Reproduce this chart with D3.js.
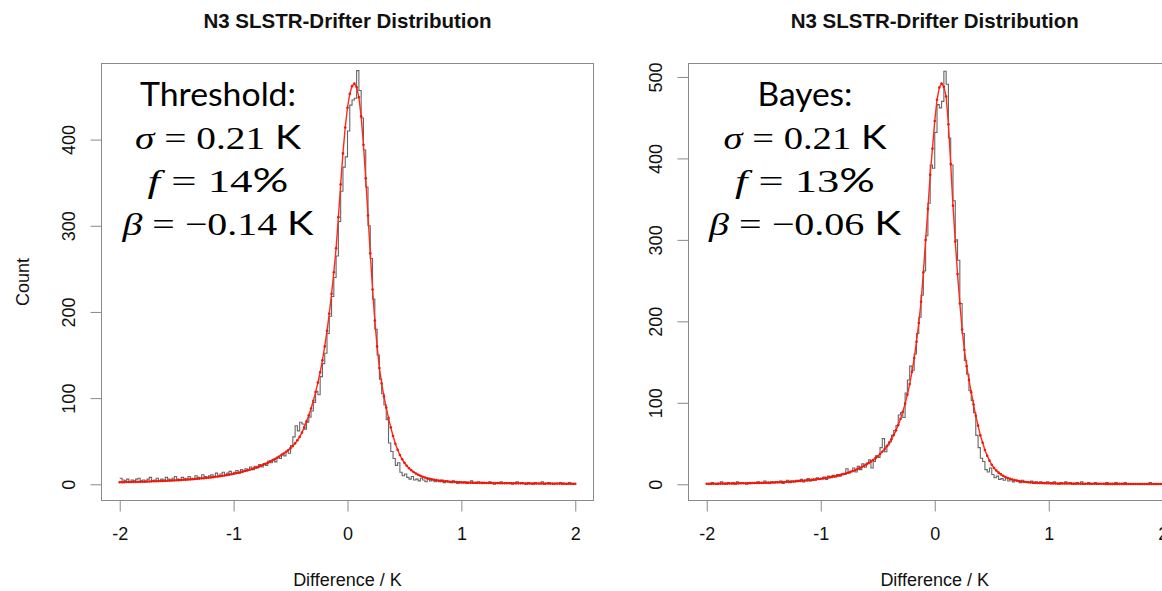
<!DOCTYPE html>
<html><head><meta charset="utf-8">
<script src="https://cdn.jsdelivr.net/npm/d3@7"></script>
<style>body{margin:0;background:#fff} svg{display:block}</style>
</head><body><svg id="c" width="1162" height="591"></svg>
<script>
// ---------- data ----------
const binStart = -2, binWidth = 0.02;          // histogram bins, -2 .. 2 K
const xTicks = [-2, -1, 0, 1, 2];
const yTicksLeft = [0, 100, 200, 300, 400];
const yTicksRight = [0, 100, 200, 300, 400, 500];
const chartTitle = "N3 SLSTR-Drifter Distribution";
const xLabel = "Difference / K";
const yLabel = "Count";

// Threshold panel: observed counts per bin (200 bins)
const thresholdCounts = [
  7,5,4,6,3,5,4,6,7,4,
  5,3,6,8,4,5,7,4,6,5,
  8,6,5,7,9,6,5,8,7,6,
  9,7,6,10,8,7,11,9,8,10,
  11,9,13,10,12,14,11,13,15,12,
  14,16,13,17,15,18,16,20,17,21,
  19,23,20,24,22,27,25,29,26,31,
  30,35,33,38,36,
  45,55,68,62,72,70,64,72,78,85,
  95,108,104,125,140,152,175,195,218,240,
  265,305,340,368,380,
  410,440,446,448,480,457,425,388,345,300,
  262,215,180,150,122,105,92,75,48,38,
  30,22,25,14,10,12,8,6,9,5,
  6,4,7,5,3,6,4,5,3,4,
  3,5,2,4,3,2,4,3,1,3,
  2,3,1,2,4,2,1,3,2,1,
  2,1,3,2,0,2,1,3,1,2,
  1,2,0,1,3,1,2,1,0,2,
  1,0,2,1,1,3,0,1,2,1,
  0,1,1,2,0,1,0,2,1,0
];
// Threshold panel: fitted curve at bin edges (201 points)
const thresholdFit = [
  2.4,2.5,2.5,2.6,2.6,2.7,2.8,2.8,2.9,3.0,
  3.0,3.1,3.2,3.3,3.4,3.5,3.6,3.7,3.8,3.9,
  4.0,4.1,4.3,4.4,4.5,4.7,4.8,5.0,5.2,5.3,
  5.5,5.7,5.9,6.1,6.4,6.6,6.9,7.1,7.4,7.7,
  8.0,8.3,8.7,9.0,9.4,9.8,10.2,10.7,11.2,11.7,
  12.2,12.8,13.4,14.0,14.7,15.4,16.1,16.9,17.7,18.6,
  19.5,20.5,21.5,22.6,23.8,25.0,26.3,27.7,29.1,30.7,
  32.3,34.0,35.8,37.7,39.8,
  42,44.5,47.5,51,55,60,66,73,80,88,
  97,107,118,130,144,160,178,198,221,246,
  274,310,348,384,414,
  437,453,462,465,461,449,427,394,355,312,
  268,226,190,160,135,117,102,89,77,66,
  56,47,40,34,29,25,21.5,18.7,16.3,14.3,
  12.6,11.1,9.9,8.8,7.9,7.1,6.4,5.8,5.3,4.8,
  4.4,4.0,3.7,3.4,3.2,3.0,2.8,2.6,2.5,2.3,
  2.2,
  2.1,2.0,2.0,1.9,1.8,1.8,1.7,1.7,1.6,1.6,
  1.5,1.5,1.5,1.4,1.4,1.4,1.3,1.3,1.3,1.2,
  1.2,1.2,1.2,1.1,1.1,1.1,1.1,1.0,1.0,1.0,
  1.0,1.0,0.9,0.9,0.9,0.9,0.9,0.9,0.8,0.8,
  0.8,0.8,0.8,0.8,0.8,0.7,0.7,0.7,0.7,0.7
];
// Bayes panel: observed counts per bin (200 bins)
const bayesCounts = [
  1,0,2,1,0,1,3,1,0,2,
  1,2,0,3,1,2,1,0,2,1,
  2,1,3,2,1,4,2,1,3,2,
  3,2,4,1,3,5,2,4,3,5,
  4,6,3,5,7,4,6,5,8,6,
  7,9,6,10,8,11,9,12,10,13,
  12,19,14,16,20,15,22,18,25,21,
  26,30,20,28,35,
  33,45,56,40,48,52,60,66,72,85,
  88,82,112,128,145,140,160,185,205,232,
  262,305,345,392,388,
  432,466,462,470,507,491,425,392,348,300,
  275,222,185,152,135,115,103,88,60,45,
  32,28,18,15,20,12,8,10,6,7,
  5,8,4,6,3,5,4,2,5,3,
  3,2,4,1,3,2,3,1,2,3,
  1,2,3,1,0,2,1,3,1,2,
  0,1,2,1,3,0,1,2,0,1,
  2,0,1,1,0,2,1,0,1,2,
  0,1,0,2,1,0,1,1,0,1,
  1,0,0,1,2,0,1,0,0,1
];
// Bayes panel: fitted curve at bin edges (201 points)
const bayesFit = [
  0.6,0.6,0.7,0.7,0.7,0.8,0.8,0.8,0.9,0.9,
  1.0,1.0,1.0,1.1,1.1,1.2,1.2,1.3,1.3,1.4,
  1.5,1.5,1.6,1.7,1.8,1.8,1.9,2.0,2.1,2.2,
  2.3,2.4,2.6,2.7,2.8,3.0,3.1,3.3,3.5,3.7,
  3.9,4.1,4.3,4.6,4.8,5.1,5.4,5.7,6.0,6.4,
  6.8,7.2,7.6,8.1,8.6,9.1,9.7,10.3,11.0,11.7,
  12.5,13.3,14.2,15.2,16.2,17.3,18.5,19.8,21.2,22.7,
  24.3,26.0,27.9,29.9,32.1,
  34.5,37.1,40.0,43.2,46.8,50.8,55.3,60.4,66.2,72.9,
  80.5,89,99,110,123,138,155,175,198,224,
  260,300,338,380,412,
  446,472,487,492,488,476,442,393,342,298,
  258,222,190,165,145,128,113,98,84,72,
  60,51,42,35,29,24,20,17,14.3,12.2,
  10.4,8.9,7.7,6.7,5.8,5.1,4.5,4.0,3.5,3.1,
  2.8,2.5,2.3,2.1,1.9,1.7,1.6,1.5,1.4,1.3,
  1.2,
  1.1,1.1,1.0,1.0,1.0,0.9,0.9,0.9,0.9,0.8,
  0.8,0.8,0.8,0.7,0.7,0.7,0.7,0.7,0.6,0.6,
  0.6,0.6,0.6,0.6,0.5,0.5,0.5,0.5,0.5,0.5,
  0.5,0.5,0.4,0.4,0.4,0.4,0.4,0.4,0.4,0.4,
  0.4,0.4,0.3,0.3,0.3,0.3,0.3,0.3,0.3,0.3
];

// annotation texts
const thresholdNotes = [
  [["Threshold:", "sans"]],
  [["σ", "it"], [" = 0.21 ", "ser"], ["K", "sans"]],
  [["f", "it"], [" = 14", "ser"], ["%", "sans"]],
  [["β", "it"], [" = −0.14 ", "ser"], ["K", "sans"]]
];
const bayesNotes = [
  [["Bayes:", "sans"]],
  [["σ", "it"], [" = 0.21 ", "ser"], ["K", "sans"]],
  [["f", "it"], [" = 13", "ser"], ["%", "sans"]],
  [["β", "it"], [" = −0.06 ", "ser"], ["K", "sans"]]
];

// ---------- drawing ----------
const svg = d3.select("#c");
svg.append("rect").attr("width", 1162).attr("height", 591).attr("fill", "#fff");
const AX = "'Liberation Sans', Arial, Helvetica, sans-serif";
const fontMap = {
  sans: {family: "Lato, 'Open Sans', sans-serif", style: "normal"},
  ser: {family: "'Liberation Serif', 'DejaVu Serif', serif", style: "normal"},
  it: {family: "'Liberation Serif', 'DejaVu Serif', serif", style: "italic"}
};

function panel(o) {
  const g = svg.append("g");
  const x = d3.scaleLinear().domain([-2.16, 2.16]).range([o.x0, o.x1]);
  const y = d3.scaleLinear().domain(o.yDomain).range([o.y1, o.y0]);

  // title
  g.append("text").attr("x", (o.x0 + o.x1) / 2).attr("y", 28)
    .attr("text-anchor", "middle").attr("font-family", AX).attr("font-weight", "bold")
    .attr("font-size", 20.5).attr("fill", "#111").text(chartTitle);

  // box
  g.append("rect").attr("x", o.x0).attr("y", o.y0)
    .attr("width", o.x1 - o.x0).attr("height", o.y1 - o.y0)
    .attr("fill", "none").attr("stroke", "#8a8a8a").attr("stroke-width", 1);

  // x axis
  const xa = g.append("g").attr("transform", `translate(0,${o.y1})`)
    .call(d3.axisBottom(x).tickValues(xTicks).tickSize(11).tickFormat(d => String(d)));
  xa.select(".domain").remove();
  xa.selectAll(".tick line").attr("stroke", "#8a8a8a");
  xa.selectAll(".tick text").attr("y", 39).attr("dy", 0)
    .attr("font-family", AX).attr("font-size", 18).attr("fill", "#111");

  // y axis
  const ya = g.append("g").attr("transform", `translate(${o.x0},0)`)
    .call(d3.axisLeft(y).tickValues(o.yTicks).tickSize(11).tickFormat(d => String(d)));
  ya.select(".domain").remove();
  ya.selectAll(".tick line").attr("stroke", "#8a8a8a");
  ya.selectAll(".tick text").attr("transform", "rotate(-90)")
    .attr("x", 0).attr("y", -27).attr("dy", 0).attr("text-anchor", "middle")
    .attr("font-family", AX).attr("font-size", 18).attr("fill", "#111");

  // axis titles
  g.append("text").attr("x", (o.x0 + o.x1) / 2).attr("y", 586)
    .attr("text-anchor", "middle").attr("font-family", AX).attr("font-size", 18)
    .attr("fill", "#111").text(xLabel);
  if (o.showY) {
    g.append("text").attr("transform", `translate(29,${(o.y0 + o.y1) / 2}) rotate(-90)`)
      .attr("text-anchor", "middle").attr("font-family", AX).attr("font-size", 18)
      .attr("fill", "#111").text(yLabel);
  }

  // histogram (step line)
  const pts = o.counts.map((c, i) => [binStart + i * binWidth, c]);
  pts.push([binStart + o.counts.length * binWidth, o.counts[o.counts.length - 1]]);
  g.append("path").datum(pts)
    .attr("d", d3.line().x(d => x(d[0])).y(d => y(d[1])).curve(d3.curveStepAfter))
    .attr("fill", "none").attr("stroke", "#666").attr("stroke-width", 1.1);

  // fitted curve with points
  const fp = o.fit.map((c, i) => [binStart + i * binWidth, c]);
  g.append("path").datum(fp)
    .attr("d", d3.line().x(d => x(d[0])).y(d => y(d[1])))
    .attr("fill", "none").attr("stroke", "#ff2a1a").attr("stroke-width", 1.4);
  g.selectAll("circle.fit").data(fp).enter().append("circle")
    .attr("cx", d => x(d[0])).attr("cy", d => y(d[1])).attr("r", 1.3)
    .attr("fill", "#f01808");

  // annotation
  const baselines = [106, 149, 192, 235];
  o.notes.forEach((parts, k) => {
    const t = g.append("text").attr("x", o.noteX).attr("y", baselines[k])
      .attr("text-anchor", "middle").attr("font-size", 32).attr("fill", "#000")
      .attr("textLength", o.noteW[k]).attr("lengthAdjust", "spacingAndGlyphs");
    parts.forEach(p => {
      t.append("tspan").attr("font-family", fontMap[p[1]].family)
        .attr("font-style", fontMap[p[1]].style).text(p[0]);
    });
  });
}

panel({x0: 101.5, x1: 593.5, y0: 63.5, y1: 500.5, yDomain: [-18.8, 488.3],
  yTicks: yTicksLeft, counts: thresholdCounts, fit: thresholdFit, showY: true,
  notes: thresholdNotes, noteX: 218, noteW: [156, 166, 141, 191]});
panel({x0: 688.5, x1: 1181, y0: 63.5, y1: 500.5, yDomain: [-19.9, 516.5],
  yTicks: yTicksRight, counts: bayesCounts, fit: bayesFit, showY: false,
  notes: bayesNotes, noteX: 805, noteW: [95, 163, 140, 192]});
</script></body></html>
